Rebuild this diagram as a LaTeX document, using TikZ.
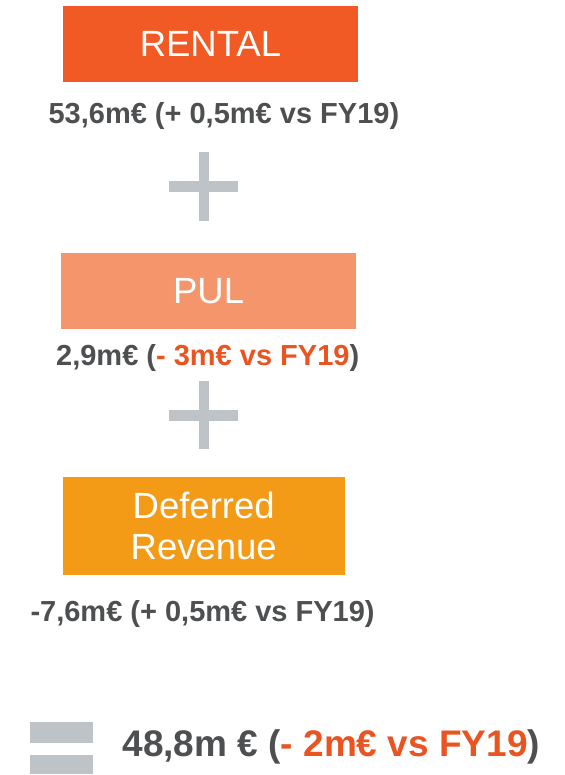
\documentclass[tikz,border=0pt]{standalone}
\usepackage{fontspec}
\setmainfont{Liberation Sans}
\definecolor{rentalfill}{HTML}{F15A25}
\definecolor{pulfill}{HTML}{F4956C}
\definecolor{deffill}{HTML}{F39A17}
\definecolor{opgray}{HTML}{BDC3C7}
\definecolor{txtgray}{HTML}{4D4F51}
\definecolor{hiorange}{HTML}{E95420}
\tikzset{
  catbox/.style={rectangle, inner sep=0pt, text=white, align=center,
    font=\fontsize{36.5}{40.6}\selectfont},
  amount/.style={anchor=base, inner sep=0pt, text=txtgray,
    font=\fontsize{29}{34}\selectfont\bfseries},
  total/.style={anchor=base west, inner sep=0pt, text=txtgray,
    font=\fontsize{37}{44}\selectfont\bfseries},
  opsign/.style={fill=opgray, draw=none}
}
\begin{document}
\begin{tikzpicture}[x=1pt,y=-1pt]
\useasboundingbox (0,0) rectangle (564,775);
\fill[white] (0,0) rectangle (564,775);

% category boxes
\node[catbox, fill=rentalfill, minimum width=294.6pt, minimum height=76pt] (rental) at (210.4,44) {RENTAL};
\node[catbox, fill=pulfill, minimum width=295pt, minimum height=76pt] (pul) at (208.6,291) {PUL};
\node[catbox, fill=deffill, minimum width=281.6pt, minimum height=98pt] (deferred) at (203.7,526) {Deferred\\Revenue};

% amounts under each box
\node[amount] (rentalamt) at (223.9,123.3) {53,6m€ (+ 0,5m€ vs FY19)};
\node[amount] (pulamt) at (207.7,365) {2,9m€ (\textcolor{hiorange}{- 3m€ vs FY19})};
\node[amount] (defamt) at (202.6,621.7) {-7,6m€ (+ 0,5m€ vs FY19)};

% plus signs
\fill[opsign] (198.5,152) rectangle (208.6,220.7);
\fill[opsign] (169.1,181) rectangle (238.1,191.7);
\fill[opsign] (198.5,381) rectangle (208.6,449.3);
\fill[opsign] (169.1,410) rectangle (238.1,421);

% equals sign
\fill[opsign] (29.5,722.3) rectangle (92.8,742.7);
\fill[opsign] (29.5,755) rectangle (92.8,774.3);

% total
\node[total] (totalamt) at (122.3,756.7) {48,8m € (\textcolor{hiorange}{- 2m€ vs FY19})};
\end{tikzpicture}
\end{document}
